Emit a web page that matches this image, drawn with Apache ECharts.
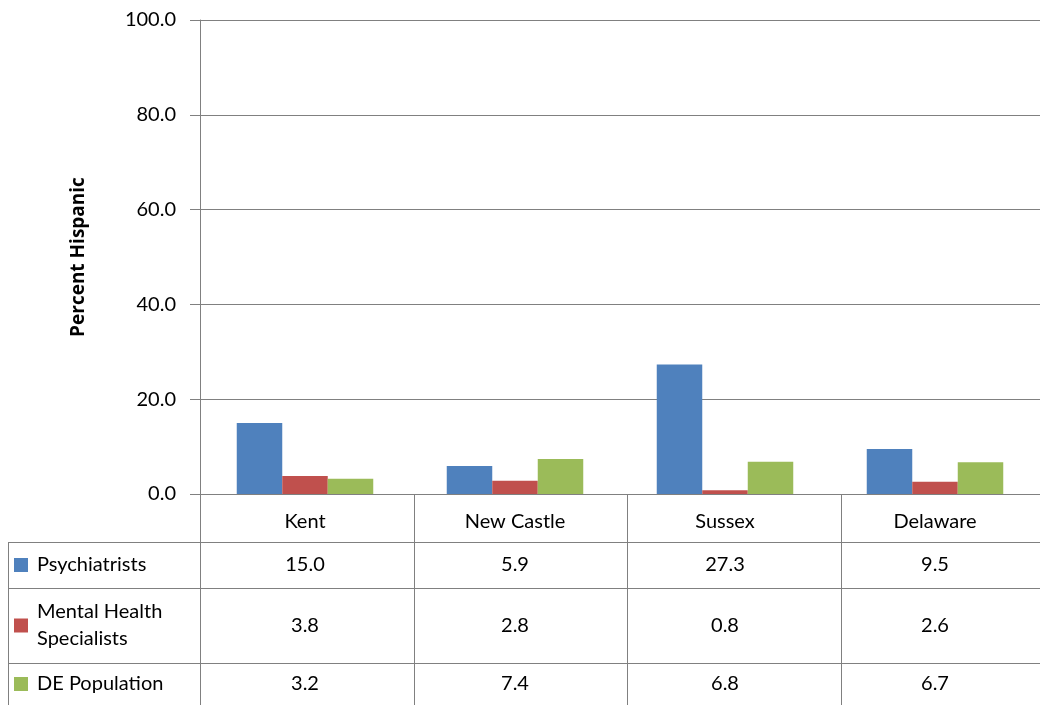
<!DOCTYPE html>
<html><head><meta charset="utf-8">
<script src="https://cdn.jsdelivr.net/npm/echarts@6/dist/echarts.min.js"></script>
<style>html,body{margin:0;padding:0;background:#fff;overflow:hidden}#c{width:1040px;height:705px}</style>
</head><body><div id="c"></div>
<script>
const categories = ['Kent','New Castle','Sussex','Delaware'];
const psychiatrists = [15.0, 5.9, 27.3, 9.5];
const mentalHealth = [3.8, 2.8, 0.8, 2.6];
const dePopulation = [3.2, 7.4, 6.8, 6.7];
const seriesNames = ['Psychiatrists', 'Mental Health\nSpecialists', 'DE Population'];
const colors = ['#4F81BD', '#C0504D', '#9BBB59'];
const FONT = 'Lato';
const chart = echarts.init(document.getElementById('c'));
const seriesData = [psychiatrists, mentalHealth, dePopulation];
chart.setOption({
  animation: false,
  textStyle: {fontFamily: FONT},
  grid: {left: 200, right: -14, top: 20, bottom: 211},
  xAxis: {type: 'category', data: categories,
    axisLine: {lineStyle: {color: '#808080'}}, axisTick: {show: false},
    axisLabel: {color: '#000', fontSize: 20, margin: 18, fontFamily: FONT}},
  yAxis: {type: 'value', min: 0, max: 100, interval: 20,
    name: 'Percent Hispanic', nameLocation: 'middle', nameGap: 112, nameRotate: 90,
    nameTextStyle: {fontWeight: 700, fontSize: 19, color: '#000', fontFamily: 'Open Sans'},
    axisLine: {show: true, lineStyle: {color: '#808080'}},
    axisTick: {show: true, length: 10, lineStyle: {color: '#808080'}},
    axisLabel: {formatter: v => v.toFixed(1), color: '#000', fontSize: 20, margin: 24, fontFamily: FONT}},
  series: seriesData.map((d, i) => ({type: 'bar', name: seriesNames[i], data: d,
    barGap: '0%', barCategoryGap: '35%', itemStyle: {color: colors[i]}}))
});
chart.setOption({yAxis: {splitLine: {lineStyle: {color: '#808080'}}}});
const g = [];
const yBase = chart.convertToPixel({yAxisIndex: 0}, 0);
const plotLeft = 200, plotRight = 1054, tableLeft = 8;
const rows = [yBase, yBase + 48, yBase + 94, yBase + 169, 705];
const colW = (plotRight - plotLeft) / categories.length;
const line = (x1, y1, x2, y2) => g.push({type: 'line', shape: {x1, y1, x2, y2}, style: {stroke: '#808080', lineWidth: 1}});
line(plotLeft + 0.5, yBase, plotLeft + 0.5, 705);
line(tableLeft + 0.5, rows[1], tableLeft + 0.5, 705);
for (let k = 1; k < categories.length; k++) {
  const x = Math.round(plotLeft + colW * k) + 0.5;
  line(x, yBase, x, 705);
}
for (let r = 1; r < 4; r++) line(tableLeft, Math.round(rows[r]) + 0.5, 1040, Math.round(rows[r]) + 0.5);
for (let s = 0; s < 3; s++) {
  const cy = (rows[s + 1] + rows[s + 2]) / 2;
  g.push({type: 'rect', shape: {x: 14, y: cy - 7, width: 14, height: 14}, style: {fill: colors[s]}});
  g.push({type: 'text', x: 37, y: cy, style: {text: seriesNames[s], fontSize: 20, fontFamily: FONT, fill: '#000', verticalAlign: 'middle', align: 'left', lineHeight: 27}});
  seriesData[s].forEach((v, i) => {
    const cx = chart.convertToPixel({xAxisIndex: 0}, categories[i]);
    g.push({type: 'text', x: cx, y: cy, style: {text: v.toFixed(1), fontSize: 20, fontFamily: FONT, fill: '#000', align: 'center', verticalAlign: 'middle'}});
  });
}
chart.setOption({graphic: g});
</script></body></html>
